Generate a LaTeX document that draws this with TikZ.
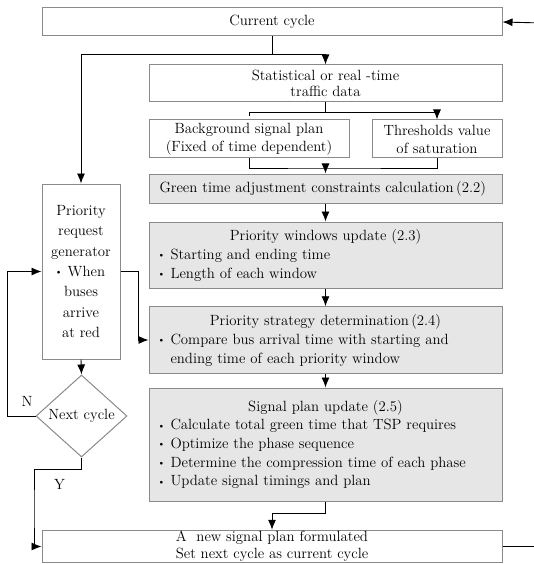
\documentclass[tikz,border=0pt]{standalone}
\usepackage{xcolor}
\usepackage{tikz}
\usetikzlibrary{arrows.meta,shapes.geometric}
\definecolor{boxgray}{HTML}{E6E6E6}
\definecolor{edgegray}{HTML}{8A8A8A}
\newcommand{\bul}{\raisebox{0.25ex}{\scalebox{0.5}{$\bullet$}}\ \,}

\begin{document}
\begin{tikzpicture}[x=1pt,y=-1pt,font=\fontsize{14.8}{19}\selectfont,
  box/.style={draw=edgegray,line width=1pt,inner sep=0pt,align=center},
  gbox/.style={box,fill=boxgray,minimum width=353,text width=332,align=left},
  wire/.style={line width=0.9pt},
  flow/.style={wire,-{Latex[length=10pt,width=8pt]}}]
\useasboundingbox (0,0) rectangle (534,564);
\node[box,minimum width=460,minimum height=28] (cur) at (272,22) {Current cycle};
\node[box,minimum width=353,minimum height=37,font=\fontsize{14.8}{15.5}\selectfont] (stat) at (325.5,83.5) {Statistical or real -time\\traffic data};
\node[box,minimum width=200,minimum height=38,font=\fontsize{14.8}{18}\selectfont] (bg) at (249,139) {Background signal plan\\(Fixed of time dependent)};
\node[box,minimum width=130,minimum height=38,font=\fontsize{14.8}{18}\selectfont] (thr) at (437,139) {Thresholds value\\of saturation};
\node[gbox,minimum height=29] (green) at (325.5,188.5) {Green time adjustment constraints calculation\,(2.2)};
\node[gbox,minimum height=66] (win) at (325.5,255) {\makebox[\hsize]{Priority windows update (2.3)}\\\bul Starting and ending time\\\bul Length of each window};
\node[gbox,minimum height=66.5] (strat) at (325.5,340) {\makebox[\hsize]{Priority strategy determination\,(2.4)}\\\bul Compare bus arrival time with starting and\\\phantom{\bul}ending time of each priority window};
\node[gbox,minimum height=113,font=\fontsize{14.8}{18.7}\selectfont] (plan) at (325.5,444.5) {\makebox[\hsize]{Signal plan update (2.5)}\\\bul Calculate total green time that TSP requires\\\bul Optimize the phase sequence\\\bul Determine the compression time of each phase\\\bul Update signal timings and plan};
\node[box,minimum width=460,minimum height=32.5,font=\fontsize{14.8}{17}\selectfont] (final) at (272,546.5) {A~ new signal plan formulated\\Set next cycle as current cycle};
\node[box,minimum width=78,minimum height=175,font=\fontsize{14.8}{20.4}\selectfont] (gen) at (81,271.5) {Priority\\request\\generator\\\bul When\\buses\\arrive\\at red};
\node[box,diamond,aspect=1.1,minimum width=91,minimum height=82] (next) at (81.5,416) {Next cycle};
\node (lblN) at (27,401) {N};
\node (lblY) at (59.5,484) {Y};
\coordinate (inR) at (534,22.8);
\coordinate (outR) at (534,546.5);
\draw[wire] (cur.south) -- (272,54) coordinate (j1);
\draw[flow] (j1) -| (gen.north);
\draw[flow] (j1) -| (stat.north);
\draw[wire] (stat.south) -- (325.5,112.5) coordinate (j2);
\draw[wire] (j2) -| (249,116);
\draw[flow] (j2) -| (thr.north);
\draw[wire] (bg.south) |- (325.5,168) coordinate (j3) -| (thr.south);
\draw[flow] (j3) -- (green.north);
\draw[flow] (green.south) -- (win.north);
\draw[flow] (win.south) -- (strat.north);
\draw[flow] (strat.south) -- (plan.north);
\draw[flow] (gen.east) -- (138,271.5) |- (strat.west);
\draw[flow] (gen.south) -- (next.north);
\draw[flow] (next.west) -- (7.5,416) |- (gen.west);
\draw[flow] (next.south) -- (81.5,469) -| (34,510) |- (final.west);
\draw[flow] (plan.south) -- (325.5,513) -| (final.north);
\draw[wire] (final.east) -- (outR);
\draw[flow] (inR) -- (cur.east);
\end{tikzpicture}
\end{document}
